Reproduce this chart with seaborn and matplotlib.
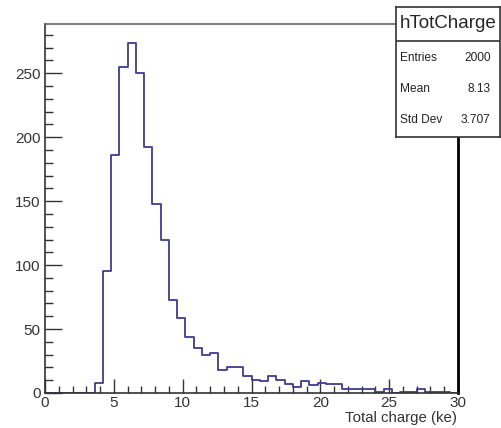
"""
ROOT-style histogram of the total charge (hTotCharge), redrawn with seaborn.
"""
import numpy as np
import pandas as pd
import matplotlib
matplotlib.use("Agg")
import matplotlib.pyplot as plt
from matplotlib.ticker import MultipleLocator
import seaborn as sns

# ---- Data (50 bins of 0.6 ke between 0 and 30) ----
bin_width = 0.6
x_range = (0, 30)
counts = [0, 0, 0, 0, 0, 0, 8, 95, 186, 255,
          274, 250, 192, 148, 120, 73, 59, 44, 35, 30,
          31, 18, 20, 20, 13, 10, 9, 13, 10, 7,
          5, 9, 6, 8, 7, 7, 3, 3, 3, 3,
          1, 3, 0, 1, 1, 3, 1, 1, 1, 0]
hist_name = "hTotCharge"
stat_labels = ["Entries", "Mean", "Std Dev"]
stat_values = ["2000", "8.13", "3.707"]
x_label = "Total charge (ke)"

centers = x_range[0] + bin_width * (np.arange(len(counts)) + 0.5)
df = pd.DataFrame({"charge": centers, "n": counts})

sns.set_style("white")
plt.rcParams["font.family"] = ["Liberation Sans", "DejaVu Sans"]

W, H = 501, 428
fig = plt.figure(figsize=(W / 100, H / 100), dpi=100)
ax = fig.add_axes([45 / W, 1 - 393 / H, (458 - 45) / W, (393 - 24) / H])

sns.histplot(data=df, x="charge", weights="n", binwidth=bin_width, binrange=x_range,
             element="step", fill=False, color="#3d3d8f", linewidth=1.3, ax=ax)

ax.set_xlim(*x_range)
ax.set_ylim(0, 288.5)
ax.set_ylabel("")
ax.set_xlabel("")

# ROOT-like ticks: inward, major + minor
ax.xaxis.set_major_locator(MultipleLocator(5))
ax.xaxis.set_minor_locator(MultipleLocator(1))
ax.yaxis.set_major_locator(MultipleLocator(50))
ax.yaxis.set_minor_locator(MultipleLocator(10))
ax.tick_params(which="both", bottom=True, left=True, top=False, right=False)
ax.tick_params(axis="x", which="major", direction="in", length=10, width=1,
               color="#333333", labelsize=11, labelcolor="#333333", pad=2)
ax.tick_params(axis="x", which="minor", direction="in", length=5, width=1, color="#333333")
ax.tick_params(axis="y", which="major", direction="in", length=12, width=1,
               color="#333333", labelsize=11, labelcolor="#333333", pad=3)
ax.tick_params(axis="y", which="minor", direction="in", length=6, width=1, color="#333333")

for side in ["left", "bottom"]:
    ax.spines[side].set_color("#333333")
    ax.spines[side].set_linewidth(1.2)
ax.spines["top"].set_color("#666666")
ax.spines["top"].set_linewidth(1.2)
ax.spines["right"].set_color("black")
ax.spines["right"].set_linewidth(2)

fig.text(457 / W, 1 - 418 / H, x_label, ha="right", va="center",
         fontsize=10.8, color="#333333")

# ---- Stats box ----
box = fig.add_axes([396 / W, 1 - 137 / H, (500 - 396) / W, (137 - 7) / H])
box.set_xlim(0, 1)
box.set_ylim(0, 1)
box.set_xticks([])
box.set_yticks([])
box.set_facecolor("white")
for s in box.spines.values():
    s.set_color("#333333")
    s.set_linewidth(1.2)
sep = 1 - (41 - 7) / 130
box.axhline(sep, color="#333333", linewidth=1.2)
box.text(0.5, 1 - (24 - 7) / 130, hist_name, ha="center", va="center", fontsize=13.5)
row_y = [58, 89, 120]
for lab, val, yy in zip(stat_labels, stat_values, row_y):
    yf = 1 - (yy - 7) / 130
    box.text(0.04, yf, lab, ha="left", va="center", fontsize=8.6, color="#222222")
    box.text(0.91, yf, val, ha="right", va="center", fontsize=8.6, color="#222222")

fig.savefig("out.png", dpi=100)
